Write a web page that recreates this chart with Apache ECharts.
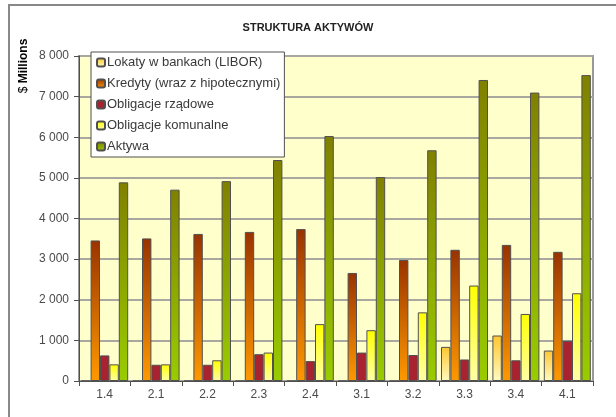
<!DOCTYPE html>
<html>
<head>
<meta charset="utf-8">
<script src="https://cdn.jsdelivr.net/npm/echarts@6/dist/echarts.min.js"></script>
<style>
  html, body { margin: 0; padding: 0; background: #fff; }
  #chart { width: 616px; height: 417px; }
</style>
</head>
<body>
<div id="chart"></div>
<script>
// dane ($ Millions)
var categories = ['1.4', '2.1', '2.2', '2.3', '2.4', '3.1', '3.2', '3.3', '3.4', '4.1'];
var seriesNames = ['Lokaty w bankach (LIBOR)', 'Kredyty (wraz z hipotecznymi)', 'Obligacje rządowe', 'Obligacje komunalne', 'Aktywa'];
var lokaty = [0, 0, 0, 0, 0, 0, 0, 840, 1120, 750];
var kredyty = [3460, 3510, 3620, 3670, 3740, 2660, 2980, 3230, 3350, 3180];
var obligRzadowe = [630, 400, 400, 660, 490, 700, 640, 530, 510, 990];
var obligKomunalne = [410, 410, 510, 700, 1400, 1250, 1690, 2350, 1650, 2160];
var aktywa = [4890, 4710, 4920, 5440, 6030, 5020, 5680, 7410, 7100, 7530];
var yTicks = [0, 1000, 2000, 3000, 4000, 5000, 6000, 7000, 8000];

var FONT = 'Liberation Sans, Arial, sans-serif';

function grad(top, bottom) {
    return new echarts.graphic.LinearGradient(0, 0, 0, 1, [
        { offset: 0, color: top },
        { offset: 1, color: bottom }
    ]);
}

function makeBar(name, data, color) {
    return {
        name: name,
        type: 'bar',
        data: data,
        barWidth: 9.4,
        barGap: 0,
        itemStyle: { color: color, borderColor: '#505050', borderWidth: 1 },
        emphasis: { disabled: true }
    };
}

var myChart = echarts.init(document.getElementById('chart'));

var option = {
    animation: false,
    backgroundColor: '#fff',
    textStyle: { fontFamily: FONT },
    title: {
        text: 'STRUKTURA AKTYWÓW',
        left: 'center',
        top: 17,
        textStyle: { fontSize: 11, fontWeight: 'bold', color: '#222' }
    },
    legend: {
        orient: 'vertical',
        left: 91,
        top: 52,
        padding: [4, 4, 4, 5],
        itemGap: 8,
        itemWidth: 8,
        itemHeight: 8,
        backgroundColor: '#fff',
        borderColor: '#505050',
        borderWidth: 1,
        textStyle: { fontSize: 13, color: '#3a3a3a', padding: [0, 0, 0, -3] },
        data: seriesNames
    },
    grid: {
        left: 79,
        right: 23,
        top: 56,
        bottom: 36,
        show: true,
        backgroundColor: '#FFFFCC',
        borderColor: '#999',
        borderWidth: 2
    },
    xAxis: {
        type: 'category',
        data: categories,
        axisLine: { lineStyle: { color: '#505050', width: 1 } },
        axisTick: { show: true, length: 5, lineStyle: { color: '#505050' } },
        axisLabel: { fontSize: 12, color: '#4a4a4a', margin: 8 }
    },
    yAxis: {
        type: 'value',
        min: yTicks[0],
        max: yTicks[yTicks.length - 1],
        interval: 1000,
        axisLine: { show: true, lineStyle: { color: '#505050', width: 1 } },
        axisTick: { show: true, length: 5, lineStyle: { color: '#505050' } },
        axisLabel: {
            fontSize: 12,
            color: '#4a4a4a',
            margin: 10,
            formatter: function (v) {
                return String(v).replace(/\B(?=(\d{3})+(?!\d))/g, ' ');
            }
        },
        splitLine: { lineStyle: { color: '#A8A8A0', width: 2 } }
    },
    graphic: [
        {
            // ramka całego wykresu
            type: 'rect',
            z: -1,
            shape: { x: 9, y: 5, width: 620, height: 430 },
            style: { fill: null, stroke: '#888', lineWidth: 2 }
        },
        {
            type: 'text',
            x: 24,
            y: 66,
            rotation: Math.PI / 2,
            style: {
                text: '{a|$} {b|Millions}',
                align: 'center',
                verticalAlign: 'middle',
                rich: {
                    a: { fontSize: 12, color: '#333', fontFamily: FONT },
                    b: { fontSize: 12, fontWeight: 'bold', color: '#333', fontFamily: FONT }
                }
            }
        }
    ],
    series: [
        makeBar(seriesNames[0], lokaty, grad('#FFC52E', '#FFFBC0')),
        makeBar(seriesNames[1], kredyty, grad('#993300', '#FF9900')),
        makeBar(seriesNames[2], obligRzadowe, '#A8222F'),
        makeBar(seriesNames[3], obligKomunalne, grad('#FFFF00', '#FFFFA8')),
        makeBar(seriesNames[4], aktywa, grad('#808000', '#99CC00'))
    ]
};

myChart.setOption(option);
</script>
</body>
</html>
